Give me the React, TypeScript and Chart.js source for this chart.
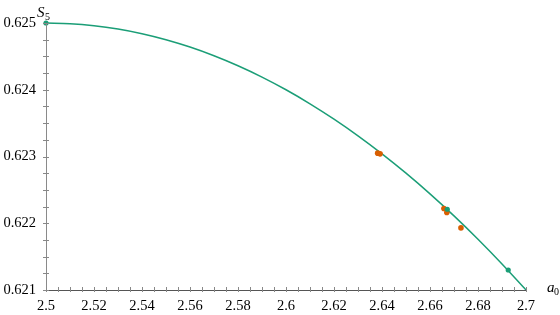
import React, { useEffect, useRef } from "react";
import { Chart, registerables } from "chart.js";

Chart.register(...registerables);

// Curve S5(a0)
const curveA = [2.5, 2.51, 2.52, 2.53, 2.54, 2.55, 2.56, 2.57, 2.58, 2.59, 2.6, 2.61, 2.62, 2.63, 2.64, 2.65, 2.66, 2.67, 2.68, 2.69, 2.7];
const curveS = [0.625, 0.62499, 0.62496, 0.62491, 0.62484, 0.62475, 0.62464, 0.62451, 0.62436, 0.62419, 0.624, 0.62379, 0.62356, 0.62331, 0.62304, 0.62275, 0.62244, 0.62211, 0.62176, 0.62139, 0.621];

// Green marked points on the curve
const greenA = [2.5, 2.6672, 2.6926];
const greenS = [0.625, 0.62221, 0.6213];

// Orange sample points
const orangeA = [2.6382, 2.6392, 2.6658, 2.667, 2.6729];
const orangeS = [0.62305, 0.62304, 0.62222, 0.62216, 0.62193];

const xTicksMajor = [2.5, 2.52, 2.54, 2.56, 2.58, 2.6, 2.62, 2.64, 2.66, 2.68, 2.7];
const yTicksMajor = [0.621, 0.622, 0.623, 0.624, 0.625];

const GREEN = "#1b9e77";
const ORANGE = "#d95f02";
const FONT = "'Liberation Serif', 'DejaVu Serif', serif";

const axesPlugin = {
  id: "axesPlugin",
  afterDatasetsDraw(chart: any) {
    const { ctx, chartArea, scales } = chart;
    const xs = scales.x;
    const ys = scales.y;
    ctx.save();
    ctx.lineWidth = 1;
    ctx.strokeStyle = "#8a8a8a";
    ctx.beginPath();
    ctx.moveTo(chartArea.left + 0.5, chartArea.top);
    ctx.lineTo(chartArea.left + 0.5, chartArea.bottom);
    ctx.stroke();
    ctx.strokeStyle = "#555555";
    ctx.beginPath();
    ctx.moveTo(chartArea.left, chartArea.bottom + 0.5);
    ctx.lineTo(chartArea.right, chartArea.bottom + 0.5);
    ctx.stroke();
    ctx.strokeStyle = "#888888";
    for (let i = 0; i <= 40; i++) {
      const v = 2.5 + i * 0.005;
      const px = Math.round(xs.getPixelForValue(v)) + 0.5;
      ctx.beginPath();
      ctx.moveTo(px, chartArea.bottom - 3);
      ctx.lineTo(px, chartArea.bottom + 2);
      ctx.stroke();
    }
    for (let i = 0; i <= 16; i++) {
      const v = 0.621 + i * 0.00025;
      const py = Math.round(ys.getPixelForValue(v)) + 0.5;
      ctx.beginPath();
      ctx.moveTo(chartArea.left - 3, py);
      ctx.lineTo(chartArea.left + 3, py);
      ctx.stroke();
    }
    ctx.fillStyle = "#000";
    ctx.textBaseline = "alphabetic";
    ctx.textAlign = "left";
    ctx.font = `italic 15px ${FONT}`;
    ctx.fillText("S", 37, 17);
    ctx.font = `10px ${FONT}`;
    ctx.fillText("5", 45, 20);
    ctx.font = `italic 15px ${FONT}`;
    ctx.fillText("a", chartArea.right + 21, chartArea.bottom + 2);
    ctx.font = `10px ${FONT}`;
    ctx.fillText("0", chartArea.right + 28, chartArea.bottom + 5);
    ctx.restore();
  },
};

export default function App() {
  const ref = useRef<HTMLCanvasElement>(null);
  useEffect(() => {
    const curve = curveA.map((a, i) => ({ x: a, y: curveS[i] }));
    const green = greenA.map((a, i) => ({ x: a, y: greenS[i] }));
    const orange = orangeA.map((a, i) => ({ x: a, y: orangeS[i] }));
    const chart = new Chart(ref.current as HTMLCanvasElement, {
      type: "scatter",
      data: {
        datasets: [
          {
            data: curve,
            showLine: true,
            borderColor: GREEN,
            borderWidth: 1.5,
            pointRadius: 0,
            cubicInterpolationMode: "monotone",
            clip: false,
            order: 3,
          } as any,
          {
            data: orange,
            backgroundColor: ORANGE,
            borderColor: ORANGE,
            pointRadius: 2.8,
            borderWidth: 0,
            clip: false,
            order: 2,
          },
          {
            data: green,
            backgroundColor: GREEN,
            borderColor: GREEN,
            pointRadius: 2.6,
            borderWidth: 0,
            clip: false,
            order: 1,
          },
        ],
      },
      options: {
        animation: false,
        responsive: false,
        maintainAspectRatio: false,
        layout: { padding: { top: 23, right: 34, left: 0, bottom: 0 } },
        plugins: { legend: { display: false }, tooltip: { enabled: false } },
        scales: {
          x: {
            type: "linear",
            min: 2.5,
            max: 2.7,
            grid: { display: false, drawTicks: false },
            border: { display: false },
            afterBuildTicks: (s: any) => {
              s.ticks = xTicksMajor.map((v) => ({ value: v }));
            },
            afterFit: (s: any) => {
              s.height = 25;
            },
            ticks: {
              padding: 7,
              color: "#000",
              font: { family: FONT, size: 14.5 },
              maxRotation: 0,
              autoSkip: false,
              callback: (v: any) => String(Number(Number(v).toFixed(2))),
            },
          },
          y: {
            type: "linear",
            min: 0.621,
            max: 0.625,
            grid: { display: false, drawTicks: false },
            border: { display: false },
            afterBuildTicks: (s: any) => {
              s.ticks = yTicksMajor.map((v) => ({ value: v }));
            },
            afterFit: (s: any) => {
              s.width = 46;
            },
            ticks: {
              padding: 10,
              color: "#000",
              font: { family: FONT, size: 14.5 },
              autoSkip: false,
              callback: (v: any) => Number(v).toFixed(3),
            },
          },
        },
      } as any,
      plugins: [axesPlugin],
    });
    return () => chart.destroy();
  }, []);
  return (
    <div style={{ position: "fixed", left: 0, top: 0, width: 560, height: 315, background: "#fff" }}>
      <canvas ref={ref} width={560} height={315} style={{ width: 560, height: 315 }} />
    </div>
  );
}
